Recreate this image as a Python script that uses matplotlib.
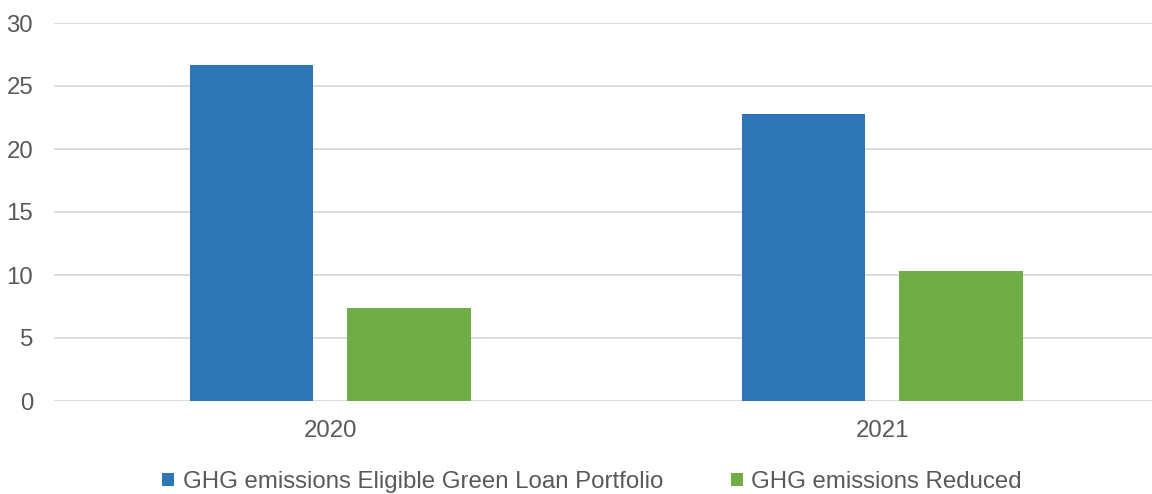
import matplotlib.pyplot as plt
import numpy as np

years = ['2020', '2021']
eligible = [26.7, 22.8]
reduced = [7.4, 10.3]
series_names = ['GHG emissions Eligible Green Loan Portfolio', 'GHG emissions Reduced']

plt.rcParams['font.family'] = ['Liberation Sans', 'DejaVu Sans']

fig = plt.figure(figsize=(11.52, 4.94), dpi=100)
ax = fig.add_axes([54 / 1152, 93 / 494, 1 - 54 / 1152, (401 - 23) / 494])

x = np.arange(len(years))
w = 0.223
ax.bar(x - 0.142, eligible, w, color='#2E75B6', label=series_names[0], zorder=3)
ax.bar(x + 0.143, reduced, w, color='#70AD47', label=series_names[1], zorder=3)

ax.set_xlim(-0.5, 1.489)
ax.set_ylim(0, 30)
ax.set_yticks(range(0, 31, 5))
ax.set_xticks(x)
ax.set_xticklabels(years)
ax.grid(axis='y', color='#D9D9D9', linewidth=1.3, zorder=0)
for s in ax.spines.values():
    s.set_visible(False)
ax.tick_params(length=0, labelsize=17.3, colors='#595959')
ax.tick_params(axis='x', pad=14)
ax.tick_params(axis='y', pad=15)

fig.legend(loc='center', bbox_to_anchor=(592 / 1152, 1 - 482 / 494), ncol=2,
           frameon=False, fontsize=17.3, labelcolor='#595959',
           handlelength=0.5, handleheight=0.5, handletextpad=0.35, columnspacing=2.8)

fig.savefig('out.png', dpi=100)
